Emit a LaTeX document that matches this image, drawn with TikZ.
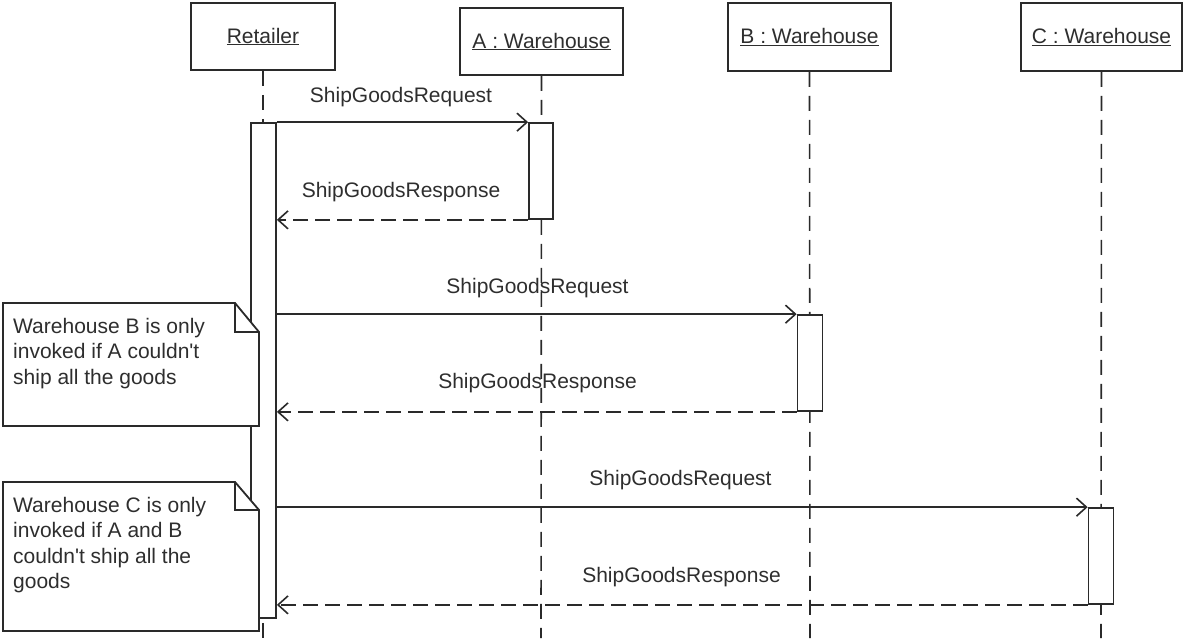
\documentclass[tikz,border=0pt]{standalone}
\usepackage{fontspec}
\setmainfont{Liberation Sans}
\usetikzlibrary{arrows.meta}
\definecolor{ln}{HTML}{2A2A2A}
\definecolor{tx}{HTML}{2E2E2E}
\begin{document}
\begin{tikzpicture}[x=1pt,y=-1pt,
  every node/.style={font=\fontsize{21}{25.5}\selectfont, text=tx},
  obj/.style={draw=ln, line width=1.8pt, fill=white, inner sep=0pt},
  act/.style={draw=ln, line width=1.7pt, fill=white, minimum width=24pt, inner sep=0pt},
  life/.style={draw=ln, line width=1.6pt, dash pattern=on 15pt off 9pt},
  msg/.style={draw=ln, line width=1.6pt, -{Straight Barb[length=10pt,width=18pt,line width=1.6pt]}},
  reply/.style={msg, dash pattern=on 15pt off 7pt},
  lbl/.style={anchor=base, inner sep=0pt},
  notefr/.style={draw=ln, line width=1.8pt, fill=white},
  notetx/.style={anchor=north west, inner sep=0pt, align=left}]
\useasboundingbox (0,0) rectangle (1184,638);

% objects
\node[obj, minimum width=144pt, minimum height=67pt] (ret) at (263,36.5) {\underline{Retailer}};
\node[obj, minimum width=163pt, minimum height=67pt] (wa) at (541.5,41.5) {\underline{A : Warehouse}};
\node[obj, minimum width=163pt, minimum height=68pt] (wb) at (809.5,37) {\underline{B : Warehouse}};
\node[obj, minimum width=161pt, minimum height=68pt] (wc) at (1101.5,37) {\underline{C : Warehouse}};

% lifelines
\coordinate (retend) at (263,638);
\coordinate (waend) at (541,638);
\coordinate (wbend) at (810,638);
\coordinate (wcend) at (1101,638);
\draw[life] (ret.south) -- (retend);
\draw[life] (wa.south) -- (waend);
\draw[life] (wb.south) -- (wbend);
\draw[life] (wc.south) -- (wcend);

% activation bars
\node[act, minimum width=25pt, minimum height=495pt] (ra) at (263.5,370.5) {};
\node[act, minimum height=96pt] (aa) at (541,171) {};
\node[act, minimum width=25pt, minimum height=96pt] (ba) at (810,363) {};
\node[act, minimum width=25pt, minimum height=96pt] (ca) at (1101,556) {};

% messages
\draw[msg] (ra.east |- aa.north west) -- (aa.north west);
\draw[reply] (aa.south west) -- (ra.east |- aa.south west);
\draw[msg] (ra.east |- ba.north west) -- (ba.north west);
\draw[reply] (ba.south west) -- (ra.east |- ba.south west);
\draw[msg] (ra.east |- ca.north west) -- (ca.north west);
\draw[reply] (ca.south west) -- (ra.east |- ca.south west);

% labels
\node[lbl] (l1) at (401,102) {ShipGoodsRequest};
\node[lbl] (l2) at (401,197) {ShipGoodsResponse};
\node[lbl] (l3) at (537.5,293) {ShipGoodsRequest};
\node[lbl] (l4) at (537.5,388) {ShipGoodsResponse};
\node[lbl] (l5) at (680.5,485) {ShipGoodsRequest};
\node[lbl] (l6) at (681.5,582) {ShipGoodsResponse};

% notes
\draw[notefr] (3,303) -- (235,303) -- (259,332) -- (259,426) -- (3,426) -- cycle;
\draw[ln, line width=1.6pt] (235,303) -- (235,332) -- (259,332);
\node[notetx] (nb) at (13,318) {Warehouse B is only\\invoked if A couldn\textquotesingle t\\ship all the goods};

\draw[notefr] (3,482) -- (235,482) -- (259,510) -- (259,631) -- (3,631) -- cycle;
\draw[ln, line width=1.6pt] (235,482) -- (235,510) -- (259,510);
\node[notetx] (nc) at (13,497) {Warehouse C is only\\invoked if A and B\\couldn\textquotesingle t ship all the\\goods};
\end{tikzpicture}
\end{document}
